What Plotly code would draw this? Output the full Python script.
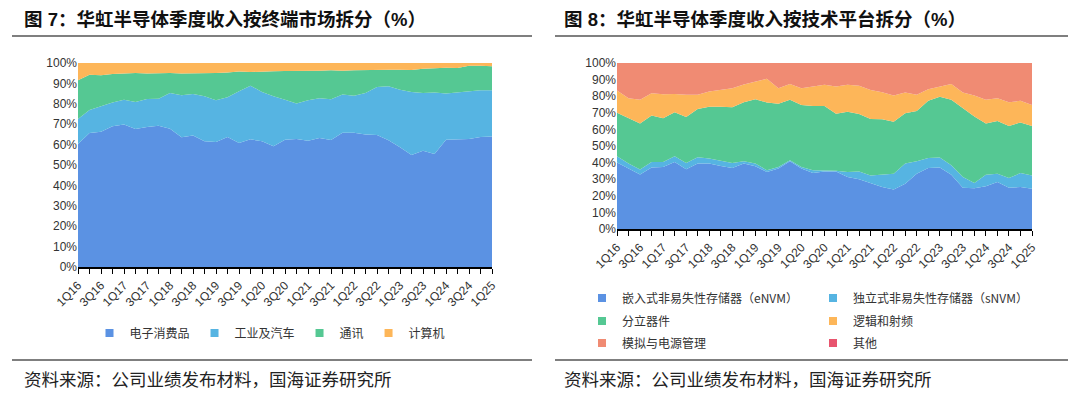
import plotly.graph_objects as go

# page body has an 8px margin; the figure fills the rest of the 1080x397 window
OFF = 8
W, H = 1080 - OFF, 397 - OFF

quarters = ["1Q16", "2Q16", "3Q16", "4Q16", "1Q17", "2Q17", "3Q17", "4Q17",
            "1Q18", "2Q18", "3Q18", "4Q18", "1Q19", "2Q19", "3Q19", "4Q19",
            "1Q20", "2Q20", "3Q20", "4Q20", "1Q21", "2Q21", "3Q21", "4Q21",
            "1Q22", "2Q22", "3Q22", "4Q22", "1Q23", "2Q23", "3Q23", "4Q23",
            "1Q24", "2Q24", "3Q24", "4Q24", "1Q25"]
tick_labels = [q if i % 2 == 0 else "" for i, q in enumerate(quarters)]

# ---- Figure 7: revenue by end market (%) ----
consumer = [60.3, 65.7, 66.3, 69.0, 69.8, 67.6, 68.6, 69.3, 67.8, 63.6, 64.5, 61.6, 61.3,
            63.7, 60.8, 62.6, 61.6, 59.2, 62.4, 62.7, 61.9, 63.2, 62.3, 65.8, 65.8, 64.9,
            64.7, 62.1, 58.7, 54.9, 57.0, 55.4, 62.4, 62.4, 62.7, 63.7, 64.0]
industrial_auto = [12.2, 11.3, 12.5, 11.6, 12.2, 13.3, 13.8, 13.2, 17.5, 20.6, 20.3, 22.1,
                   20.4, 19.5, 25.3, 26.3, 24.2, 24.5, 19.6, 17.4, 19.8, 19.5, 19.9, 18.8,
                   18.2, 20.4, 23.5, 26.5, 28.2, 30.9, 28.3, 30.2, 22.6, 23.1, 23.6, 22.9, 22.6]
communication = [19.0, 17.3, 15.2, 14.0, 12.8, 14.2, 12.5, 12.6, 9.8, 10.7, 10.1, 11.2, 13.4,
                 12.1, 9.7, 6.7, 9.8, 12.2, 14.1, 16.0, 14.2, 13.5, 14.2, 11.6, 12.4, 11.3,
                 8.5, 8.1, 9.8, 10.8, 11.9, 11.8, 12.7, 12.0, 12.4, 12.1, 11.8]
computer = [8.5, 5.7, 6.0, 5.4, 5.2, 4.9, 5.1, 4.9, 4.9, 5.1, 5.1, 5.1, 4.9, 4.7, 4.2, 4.4,
            4.4, 4.1, 3.9, 3.9, 4.1, 3.8, 3.6, 3.8, 3.6, 3.4, 3.3, 3.3, 3.3, 3.4, 2.8, 2.6,
            2.3, 2.5, 1.3, 1.3, 1.6]

# ---- Figure 8: revenue by technology platform (%) ----
envm = [40.0, 36.4, 32.9, 37.0, 37.4, 40.4, 36.0, 39.4, 39.4, 38.0, 36.8, 39.4, 37.8, 34.3,
        36.4, 40.8, 36.4, 33.7, 34.7, 34.7, 31.3, 29.9, 27.7, 25.3, 23.8, 27.3, 33.3, 36.8,
        37.0, 32.7, 24.8, 24.6, 25.7, 28.3, 24.8, 25.3, 24.2]
snvm = [3.8, 3.0, 2.9, 3.4, 3.0, 3.4, 3.8, 3.8, 3.0, 3.2, 3.0, 1.4, 1.6, 1.1, 1.0, 0.6, 1.0,
        1.7, 0.4, 0.4, 3.0, 4.8, 4.6, 7.6, 9.5, 12.1, 7.5, 6.0, 6.0, 5.7, 6.5, 3.1, 7.0, 5.0,
        5.9, 8.4, 8.1]
discrete = [26.3, 27.3, 27.8, 27.9, 26.3, 26.5, 27.7, 29.1, 31.3, 32.5, 33.5, 35.6, 38.8,
            40.8, 38.0, 36.4, 37.3, 38.7, 39.0, 34.4, 36.4, 34.6, 34.0, 33.2, 31.3, 30.3,
            30.3, 34.4, 36.6, 39.4, 41.4, 40.0, 30.9, 31.7, 31.3, 30.5, 29.7]
logic_rf = [13.3, 12.1, 14.2, 13.5, 14.5, 11.1, 13.3, 8.5, 9.1, 9.9, 11.5, 10.6, 10.7, 14.3,
            9.4, 9.5, 10.1, 11.8, 12.8, 16.4, 16.2, 17.0, 17.5, 16.3, 15.8, 12.5, 9.7, 7.0,
            6.3, 9.5, 9.5, 12.7, 14.2, 13.8, 14.4, 13.0, 12.7]
analog_pm = [16.6, 21.2, 22.2, 18.2, 18.8, 18.6, 19.2, 19.2, 17.2, 16.4, 15.2, 13.0, 11.1,
             9.5, 15.2, 12.7, 15.2, 14.1, 13.5, 14.5, 13.1, 13.7, 16.2, 17.6, 19.6, 17.8,
             19.2, 15.8, 14.1, 12.7, 17.8, 19.6, 22.2, 21.2, 23.6, 22.8, 25.3]
others = [0.0] * 37

left_series = [("电子消费品", consumer, "#5B92E3"),
               ("工业及汽车", industrial_auto, "#56B4E2"),
               ("通讯", communication, "#55C893"),
               ("计算机", computer, "#FDB659")]
right_series = [("嵌入式非易失性存储器（eNVM）", envm, "#5B92E3", "legend2"),
                ("独立式非易失性存储器（sNVM）", snvm, "#56B4E2", "legend2"),
                ("分立器件", discrete, "#55C893", "legend3"),
                ("逻辑和射频", logic_rf, "#FDB659", "legend3"),
                ("模拟与电源管理", analog_pm, "#F08B73", "legend4"),
                ("其他", others, "#E8546E", "legend4")]

fig = go.Figure()

for name, vals, color in left_series:
    fig.add_trace(go.Scatter(x=quarters, y=vals, name=name, stackgroup="left",
                             mode="lines", line=dict(width=0, color=color),
                             fillcolor=color, showlegend=False,
                             xaxis="x", yaxis="y"))
for name, vals, color in left_series:
    fig.add_trace(go.Scatter(x=[None], y=[None], name=name, mode="markers",
                             marker=dict(symbol="square", size=8, color=color),
                             legend="legend", xaxis="x", yaxis="y"))

for name, vals, color, lg in right_series:
    fig.add_trace(go.Scatter(x=quarters, y=vals, name=name, stackgroup="right",
                             mode="lines", line=dict(width=0, color=color),
                             fillcolor=color, showlegend=False,
                             xaxis="x2", yaxis="y2"))
for name, vals, color, lg in right_series:
    fig.add_trace(go.Scatter(x=[None], y=[None], name=name, mode="markers",
                             marker=dict(symbol="square", size=8, color=color),
                             legend=lg, xaxis="x2", yaxis="y2"))


def px(x):
    return (x - OFF) / W


def py(y):
    return 1 - (y - OFF) / H


tickfont = dict(family="Liberation Sans, Arial, sans-serif", size=12, color="#333333")

xcommon = dict(type="category", categoryorder="array", categoryarray=quarters,
               tickmode="array", tickvals=quarters, ticktext=tick_labels,
               tickangle=-45, tickfont=tickfont, showgrid=False, zeroline=False,
               showline=True, linecolor="#000000", linewidth=1.5,
               ticks="outside", ticklen=5, tickwidth=1.2, tickcolor="#000000",
               range=[0, 36], fixedrange=True, automargin=False)
ycommon = dict(range=[0, 100], dtick=10, ticksuffix="%", tickfont=tickfont,
               showgrid=False, zeroline=False, showline=False, ticks="",
               fixedrange=True, automargin=False)

legfont = dict(family="Noto Sans CJK SC, sans-serif", size=12, color="#333333")
rowleg = dict(orientation="h", x=px(582), xanchor="left", yanchor="middle",
              font=legfont, bgcolor="rgba(0,0,0,0)", entrywidth=186,
              entrywidthmode="pixels", itemwidth=30, traceorder="normal")

fig.update_layout(
    width=W, height=H,
    margin=dict(l=0, r=0, t=0, b=0, autoexpand=False),
    paper_bgcolor="white", plot_bgcolor="white",
    xaxis=dict(domain=[px(78), px(492)], anchor="y", **xcommon),
    yaxis=dict(domain=[py(267), py(63)], anchor="x", **ycommon),
    xaxis2=dict(domain=[px(617), px(1032)], anchor="y2", **xcommon),
    yaxis2=dict(domain=[py(229), py(63)], anchor="x2", **ycommon),
    legend=dict(orientation="h", x=px(270), xanchor="center", y=py(333),
                yanchor="middle", font=legfont, bgcolor="rgba(0,0,0,0)",
                itemwidth=30, tracegroupgap=0, traceorder="normal"),
    legend2=dict(y=py(298), **rowleg),
    legend3=dict(y=py(321), **rowleg),
    legend4=dict(y=py(343), **rowleg),
    showlegend=True,
)

titlefont = dict(family="Liberation Sans, Noto Sans CJK SC, sans-serif", size=18.5,
                 color="#111111")
srcfont = dict(family="Noto Sans CJK SC, sans-serif", size=17.5, color="#222222")

fig.add_annotation(text="<b>图 7：华虹半导体季度收入按终端市场拆分（%）</b>",
                   x=px(22), y=py(20), xref="paper", yref="paper",
                   xanchor="left", yanchor="middle", showarrow=False, font=titlefont)
fig.add_annotation(text="<b>图 8：华虹半导体季度收入按技术平台拆分（%）</b>",
                   x=px(562), y=py(20), xref="paper", yref="paper",
                   xanchor="left", yanchor="middle", showarrow=False, font=titlefont)
fig.add_annotation(text="资料来源：公司业绩发布材料，国海证券研究所",
                   x=px(22), y=py(378), xref="paper", yref="paper",
                   xanchor="left", yanchor="middle", showarrow=False, font=srcfont)
fig.add_annotation(text="资料来源：公司业绩发布材料，国海证券研究所",
                   x=px(562), y=py(378), xref="paper", yref="paper",
                   xanchor="left", yanchor="middle", showarrow=False, font=srcfont)

for x0, x1 in [(12, 532), (555, 1068)]:
    for yy in (36, 360):
        fig.add_shape(type="line", xref="paper", yref="paper",
                      x0=px(x0), x1=px(x1), y0=py(yy), y1=py(yy),
                      line=dict(color="#555555", width=1.3))

fig.write_html("out.html")
